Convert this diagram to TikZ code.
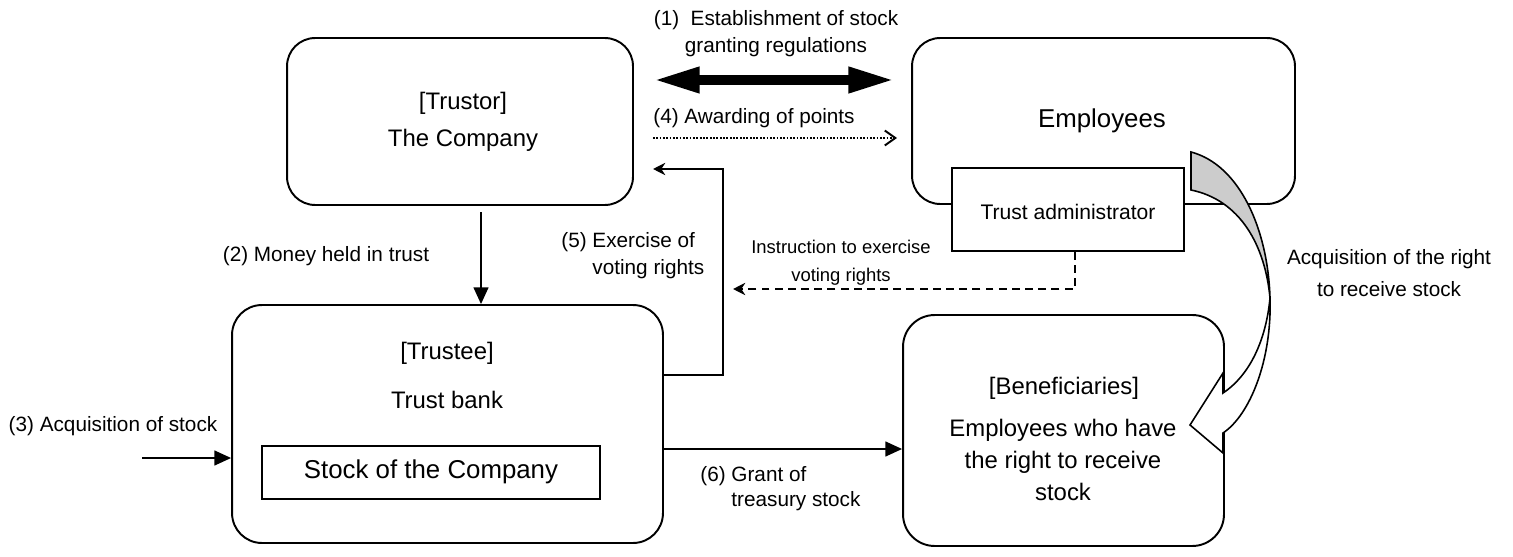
\documentclass[tikz,border=0pt]{standalone}
\usepackage{fontspec}
\setmainfont{Liberation Sans}
\usetikzlibrary{arrows.meta}
\tikzstyle{roundbox}=[rectangle, rounded corners=16pt, draw, line width=1.1pt, fill=white, inner sep=0]
\tikzstyle{plainbox}=[rectangle, draw, line width=1.1pt, fill=white, inner sep=0]
\tikzstyle{boxtext}=[inner sep=0, align=center, font=\fontsize{13.6}{18}\selectfont]
\tikzstyle{bigtext}=[inner sep=0, align=center, font=\fontsize{14.7}{18}\selectfont]
\tikzstyle{lbl}=[inner sep=0, align=center, font=\fontsize{11.8}{15.5}\selectfont]
\tikzstyle{smalllbl}=[inner sep=0, align=center, font=\fontsize{10.5}{15.8}\selectfont]
\tikzstyle{arrow}=[line width=0.8pt, -{Triangle[length=9.5pt,width=8.5pt]}]
\tikzstyle{backarrow}=[line width=0.8pt, -{Stealth[length=7pt,width=7pt]}]
\tikzstyle{dasharrow}=[backarrow, dash pattern=on 4.5pt off 3pt]
\tikzstyle{dotarrow}=[line width=1.1pt, dash pattern=on 1pt off 0.9pt, -{Straight Barb[length=6pt,width=8.5pt]}]
\tikzstyle{bigarrow}=[line width=5.7pt, {Triangle[length=26.6pt,width=13.6pt]}-{Triangle[length=26.6pt,width=13.6pt]}]
\begin{document}
\begin{tikzpicture}[x=0.02cm, y=-0.02cm]
\useasboundingbox (0,0) rectangle (1513,557);

\node[roundbox, minimum width=6.92cm, minimum height=3.34cm] (trustor) at (460,121.5) {};
\node[roundbox, minimum width=7.66cm, minimum height=3.32cm] (employees) at (1103.5,121) {};
\node[plainbox, minimum width=4.64cm, minimum height=1.66cm] (admin) at (1068,209.5) {};
\node[roundbox, rounded corners=17pt, minimum width=8.62cm, minimum height=4.76cm] (trustee) at (447.5,424) {};
\node[plainbox, minimum width=6.76cm, minimum height=1.06cm] (stock) at (431,472.5) {};
\node[roundbox, rounded corners=18pt, minimum width=6.42cm, minimum height=4.62cm] (benef) at (1063.5,430.5) {};

\node[boxtext] (trustortitle) at (463,103) {[Trustor]};
\node[boxtext] (trustorname) at (463,140) {The Company};
\node[bigtext] (emptext) at (1102,121) {Employees};
\node[lbl, font=\fontsize{12}{14}\selectfont] (admintext) at (1068,212) {Trust administrator};
\node[boxtext] (trusteetitle) at (447,353) {[Trustee]};
\node[boxtext] (trusteename) at (447,400) {Trust bank};
\node[bigtext] (stocktext) at (431,472) {Stock of the Company};
\node[boxtext] (beneftitle) at (1064,388) {[Beneficiaries]};
\node[boxtext] (beneftext) at (1063,460) {Employees who have\\the right to receive\\stock};

\coordinate (p1l) at (653,80);
\coordinate (p1r) at (895,80);
\draw[bigarrow] (p1l) -- (p1r);
\node[lbl] (l1) at (776,34) {(1)\ \ Establishment of stock\\granting regulations};

\coordinate (p4l) at (653,138);
\coordinate (p4r) at (897,138);
\draw[dotarrow] (p4l) -- (p4r);
\node[lbl, anchor=west] (l4) at (653,118) {(4) Awarding of points};

\coordinate (p2) at (481,212);
\draw[arrow] (p2) -- (p2 |- trustee.north);
\node[lbl] (l2) at (326,256) {(2) Money held in trust};

\coordinate (p3) at (142,458);
\draw[arrow] (p3) -- (p3 -| trustee.west);
\node[lbl] (l3) at (113,426) {(3) Acquisition of stock};

\coordinate (p5) at (723,375);
\coordinate (p5top) at (723,169);
\coordinate (p5end) at (653,169);
\draw[backarrow] (trustee.east |- p5) -- (p5) -- (p5top) -- (p5end);
\node[lbl, anchor=west, align=left] (l5) at (561,256) {(5) Exercise of\\\phantom{(5) }voting rights};

\coordinate (pi) at (1075,289);
\coordinate (piend) at (733,289);
\draw[dasharrow] (admin.south -| pi) -- (pi) -- (piend);
\node[smalllbl] (li) at (841,263) {Instruction to exercise\\voting rights};

\coordinate (p6) at (700,449);
\draw[arrow] (trustee.east |- p6) -- (p6 -| benef.west);
\node[lbl, anchor=west, align=left, font=\fontsize{11.8}{14.2}\selectfont] (l6) at (700,489) {(6) Grant of\\\phantom{(6) }treasury stock};

% curved arrow
\draw[line width=0.9pt, fill=black!20] (1191,152) .. controls (1240,165) and (1268,230) .. (1270,298)
  .. controls (1265,245) and (1240,200) .. (1191,190) -- cycle;
\draw[line width=0.9pt, fill=white] (1270,298) .. controls (1272,360) and (1250,415) .. (1223,433)
  -- (1223,453) -- (1190,425) -- (1223,373) -- (1223,393)
  .. controls (1250,375) and (1266,340) .. (1270,298) -- cycle;
\node[lbl, font=\fontsize{11.8}{18}\selectfont] (lacq) at (1389,273) {Acquisition of the right\\to receive stock};
\end{tikzpicture}
\end{document}
